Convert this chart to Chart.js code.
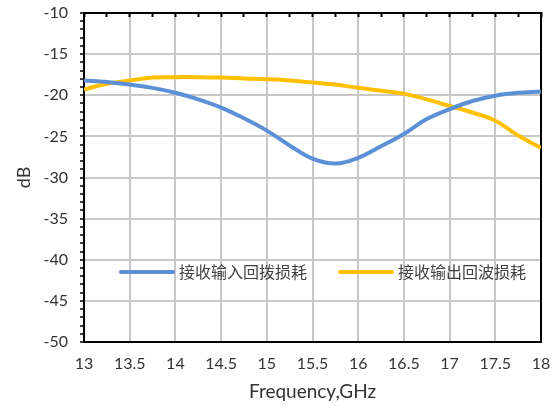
<!DOCTYPE html>
<html>
<head>
<meta charset="utf-8">
<script src="https://cdn.jsdelivr.net/npm/chart.js@4.4.0/dist/chart.umd.min.js"></script>
<style>
  html, body { margin: 0; padding: 0; background: #fff; }
  #wrap { width: 560px; height: 410px; }
</style>
</head>
<body>
<div id="wrap"><canvas id="lossChart" width="560" height="410"></canvas></div>
<script>
// frequency points (GHz)
const freqs = [13, 13.25, 13.5, 13.75, 14, 14.25, 14.5, 14.75, 15, 15.25, 15.5,
  15.75, 16, 16.25, 16.5, 16.75, 17, 17.25, 17.5, 17.75, 18];

// 接收输入回拨损耗 (dB)
const inputLoss = [-18.2, -18.4, -18.7, -19.1, -19.7, -20.5, -21.5, -22.8, -24.3, -26.1, -27.7,
  -28.3, -27.6, -26.2, -24.7, -22.9, -21.7, -20.7, -20.05, -19.7, -19.55];

// 接收输出回波损耗 (dB)
const outputLoss = [-19.3, -18.6, -18.2, -17.85, -17.8, -17.8, -17.85, -17.95, -18.05, -18.2, -18.45,
  -18.7, -19.1, -19.45, -19.8, -20.5, -21.3, -22.1, -23.1, -24.9, -26.4];

const seriesNames = ['接收输入回拨损耗', '接收输出回波损耗'];
const xTitle = 'Frequency,GHz';
const yTitle = 'dB';

const latin = 'Lato, "Liberation Sans", sans-serif';
const gridGray = '#c8c8c8';

function toPoints(ys) {
  return freqs.map((f, i) => ({ x: f, y: ys[i] }));
}

// legend drawn inside the plot area, as in the original
const innerLegend = {
  id: 'innerLegend',
  afterDatasetsDraw(chart) {
    const { ctx, chartArea } = chart;
    const y = chartArea.top + 259;
    const starts = [chartArea.left + 37, chartArea.left + 256];
    ctx.save();
    chart.data.datasets.forEach((ds, i) => {
      const x0 = starts[i];
      ctx.strokeStyle = ds.borderColor;
      ctx.lineWidth = 4;
      ctx.lineCap = 'round';
      ctx.beginPath();
      ctx.moveTo(x0, y);
      ctx.lineTo(x0 + 52, y);
      ctx.stroke();
      ctx.fillStyle = '#404040';
      ctx.font = '16px "Noto Sans CJK SC", sans-serif';
      ctx.textBaseline = 'middle';
      ctx.textAlign = 'left';
      ctx.fillText(ds.label, x0 + 58, y);
    });
    ctx.restore();
  }
};

function noPad(scale) {
  scale.paddingTop = 0;
  scale.paddingBottom = 0;
  scale.paddingLeft = 0;
  scale.paddingRight = 0;
}

const chartConfig = {
  type: 'line',
  data: {
    datasets: [{
      label: seriesNames[0],
      data: toPoints(inputLoss),
      borderColor: '#5b8fd6',
      backgroundColor: '#5b8fd6',
      borderWidth: 4,
      pointRadius: 0,
      tension: 0.4,
      xAxisID: 'x',
      yAxisID: 'y'
    }, {
      label: seriesNames[1],
      data: toPoints(outputLoss),
      borderColor: '#ffc000',
      backgroundColor: '#ffc000',
      borderWidth: 4,
      pointRadius: 0,
      tension: 0.4,
      xAxisID: 'x',
      yAxisID: 'y'
    }]
  },
  options: {
    responsive: false,
    animation: false,
    layout: { padding: { left: 0, right: 19, top: 13, bottom: 0 } },
    plugins: {
      legend: { display: false },
      tooltip: { enabled: false }
    },
    scales: {
      x: {
        type: 'linear',
        position: 'bottom',
        min: 13,
        max: 18,
        afterFit(scale) { scale.height = 68; noPad(scale); },
        ticks: {
          stepSize: 0.5,
          autoSkip: false,
          maxRotation: 0,
          padding: 12,
          color: '#333',
          font: { family: latin, size: 16 },
          callback: (v) => String(v)
        },
        grid: { color: gridGray, lineWidth: 2, drawTicks: false },
        border: { color: '#000', width: 2 },
        title: {
          display: true,
          text: xTitle,
          color: '#333',
          font: { family: latin, size: 19 },
          padding: { top: 0, bottom: 7 }
        }
      },
      xTop: {
        type: 'linear',
        position: 'top',
        min: 13,
        max: 18,
        afterFit(scale) { scale.height = 0; noPad(scale); },
        ticks: { display: false, stepSize: 0.25, autoSkip: false },
        grid: { drawOnChartArea: false, drawTicks: true, tickLength: -4, tickColor: '#000', tickWidth: 2 },
        border: { color: '#000', width: 2 }
      },
      y: {
        type: 'linear',
        position: 'left',
        min: -50,
        max: -10,
        afterFit(scale) { scale.width = 84; noPad(scale); },
        ticks: {
          stepSize: 1,
          autoSkip: false,
          padding: 12,
          color: '#333',
          font: { family: latin, size: 16 },
          callback: (v) => (v % 5 === 0 ? String(v) : '')
        },
        grid: {
          color: (c) => (c.tick && c.tick.value % 5 === 0 ? gridGray : 'rgba(0,0,0,0)'),
          lineWidth: 2,
          tickColor: '#000',
          tickLength: 4,
          tickWidth: 1.5
        },
        border: { color: '#000', width: 2 },
        title: {
          display: true,
          text: yTitle,
          color: '#333',
          font: { family: latin, size: 18 },
          padding: { top: 13, bottom: 0 }
        }
      },
      yRight: {
        type: 'linear',
        position: 'right',
        min: -50,
        max: -10,
        afterFit(scale) { scale.width = 0; noPad(scale); },
        ticks: { display: false },
        grid: { drawOnChartArea: false, drawTicks: false },
        border: { color: '#000', width: 2 }
      }
    }
  },
  plugins: [innerLegend]
};

const lossChart = new Chart(document.getElementById('lossChart'), chartConfig);
</script>
</body>
</html>
